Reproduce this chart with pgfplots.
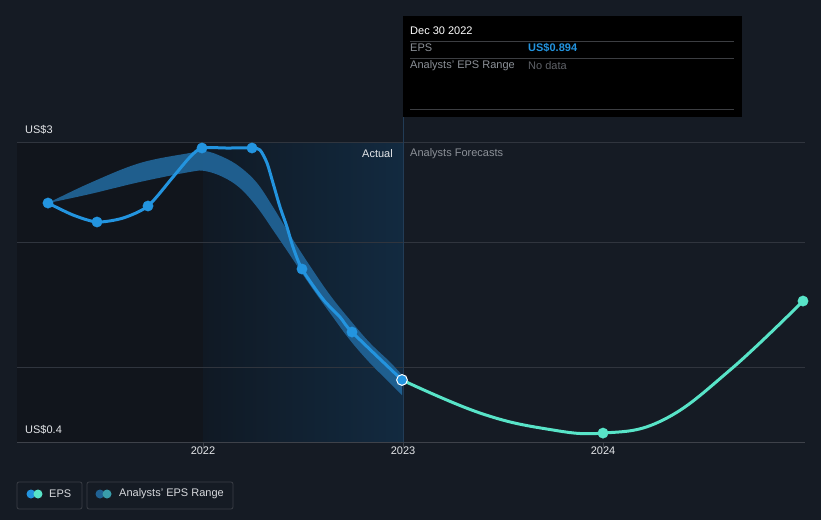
\documentclass[border=0pt]{standalone}
\usepackage{pgfplots}
\pgfplotsset{compat=1.18}
\usepgfplotslibrary{fillbetween}
\usepackage{fontspec}
\setmainfont{Liberation Sans}
\definecolor{bg}{RGB}{21,27,36}
\definecolor{leftbg}{RGB}{17,21,28}
\definecolor{midL}{RGB}{16,25,36}
\definecolor{midR}{RGB}{18,42,64}
\definecolor{gridc}{RGB}{48,53,62}
\definecolor{axc}{RGB}{62,66,74}
\definecolor{epsblue}{RGB}{35,148,223}
\definecolor{teal}{RGB}{88,228,200}
\definecolor{band}{RGB}{32,98,148}
\definecolor{txt}{RGB}{228,230,233}
\definecolor{gtxt}{RGB}{140,145,152}
\definecolor{dtxt}{RGB}{95,98,104}
\definecolor{vline}{RGB}{34,60,86}
\definecolor{tipline}{RGB}{60,62,66}
\definecolor{legb}{RGB}{58,62,70}
\begin{document}
\begin{tikzpicture}[font=\fontsize{11}{13}\selectfont]
\fill[bg] (0pt,0pt) rectangle (821pt,520pt);
\begin{axis}[at={(17pt,78pt)}, anchor=south west, scale only axis,
  width=788pt, height=299.5pt,
  xmin=2021.07, xmax=2025.01, ymin=0.344, ymax=3,
  axis line style={draw=none}, clip=false,
  xtick={2022,2023,2024}, xticklabels={2022,2023,2024},
  xticklabel style={text=txt, yshift=-1pt},
  ytick=\empty, major tick length=0pt]
  % background regions
  \fill[leftbg] (axis cs:2021.07,0.344) rectangle (axis cs:2022,3);
  \shade[left color=midL, right color=midR] (axis cs:2022,0.344) rectangle (axis cs:2023,3);
  % grid lines
  \draw[gridc, line width=0.8pt] (axis cs:2021.07,3) -- (axis cs:2025.01,3);
  \draw[gridc, line width=0.8pt] (axis cs:2021.07,2.117) -- (axis cs:2025.01,2.117);
  \draw[gridc, line width=0.8pt] (axis cs:2021.07,1.009) -- (axis cs:2025.01,1.009);
  \draw[axc, line width=0.8pt] (axis cs:2021.07,0.344) -- (axis cs:2025.01,0.344);
  \draw[axc, line width=0.8pt] (axis cs:2022,0.344) -- ([yshift=-5pt]axis cs:2022,0.344);
  \draw[axc, line width=0.8pt] (axis cs:2023,0.344) -- ([yshift=-5pt]axis cs:2023,0.344);
  \draw[axc, line width=0.8pt] (axis cs:2024,0.344) -- ([yshift=-5pt]axis cs:2024,0.344);
  \draw[vline, line width=0.8pt] (axis cs:2023,0.344) -- ([yshift=25pt]axis cs:2023,3);
  % analysts range band
  \addplot[name path=up, draw=none, smooth, tension=0.6] coordinates {
    (2021.225,2.463) (2021.435,2.641) (2021.685,2.818) (2021.935,2.907) (2022.01,2.925)
    (2022.10,2.871) (2022.185,2.783) (2022.27,2.641) (2022.35,2.428) (2022.435,2.180)
    (2022.535,1.905) (2022.635,1.647) (2022.735,1.426) (2022.835,1.222) (2022.935,1.053)
    (2022.995,0.937)};
  \addplot[name path=lo, draw=none, smooth, tension=0.6] coordinates {
    (2021.225,2.463) (2021.435,2.543) (2021.685,2.650) (2021.935,2.739) (2022.01,2.747)
    (2022.10,2.694) (2022.185,2.596) (2022.27,2.428) (2022.35,2.224) (2022.435,2.002)
    (2022.535,1.736) (2022.635,1.488) (2022.735,1.248) (2022.835,1.044) (2022.935,0.867)
    (2022.995,0.760)};
  \addplot[band, fill opacity=0.95, draw=none] fill between[of=up and lo, on layer=main];
  % EPS actual line
  \addplot[epsblue, line width=3pt, smooth, tension=0.45] coordinates {
    (2021.225,2.463) (2021.35,2.357) (2021.47,2.295) (2021.60,2.330) (2021.725,2.437)
    (2021.85,2.694) (2021.935,2.871) (2021.995,2.951) (2022.12,2.951) (2022.245,2.951)
    (2022.285,2.933) (2022.32,2.818) (2022.35,2.641) (2022.385,2.428) (2022.42,2.250)
    (2022.45,2.073) (2022.495,1.878) (2022.60,1.610) (2022.685,1.452) (2022.745,1.319)
    (2022.995,0.894)};
  \addplot[only marks, mark=*, mark size=5.2pt, mark options={fill=epsblue, draw=epsblue}] coordinates {
    (2021.225,2.463) (2021.47,2.295) (2021.725,2.437) (2021.995,2.951) (2022.245,2.951)
    (2022.495,1.878) (2022.745,1.319)};
  % forecast line
  \addplot[teal, line width=3pt, smooth, tension=0.7] coordinates {
    (2022.995,0.894) (2023.385,0.601) (2023.72,0.459) (2024.0,0.423) (2024.30,0.539)
    (2024.635,0.982) (2025.0,1.594)};
  \addplot[only marks, mark=*, mark size=5.2pt, mark options={fill=teal, draw=teal}] coordinates {
    (2024.0,0.423) (2025.0,1.594)};
  \addplot[only marks, mark=*, mark size=5.4pt, mark options={fill=epsblue, draw=white, line width=1pt}] coordinates {
    (2022.995,0.894)};
\end{axis}
\begin{scope}[x=1pt,y=1pt]
% y labels
\node[anchor=west, text=txt, inner sep=0pt] at (25,390) {US\$3};
\node[anchor=west, text=txt, inner sep=0pt] at (25,90) {US\$0.4};
% actual / forecast labels
\node[anchor=east, text=txt, inner sep=0pt] at (393,366) {Actual};
\node[anchor=west, text=gtxt, inner sep=0pt] at (410,366) {Analysts Forecasts};
% tooltip
\fill[black] (403,504) rectangle (742,403);
\node[anchor=west, text=white, inner sep=0pt] at (410,489) {Dec 30 2022};
\draw[tipline, line width=0.8pt] (410,479) -- (734,479);
\node[anchor=west, text=gtxt, inner sep=0pt] at (410,472) {EPS};
\node[anchor=west, text=epsblue, inner sep=0pt] at (528,472) {\bfseries US\$0.894};
\draw[tipline, line width=0.8pt] (410,462) -- (734,462);
\node[anchor=west, text=gtxt, inner sep=0pt] at (410,454) {Analysts' EPS Range};
\node[anchor=west, text=dtxt, inner sep=0pt] at (528,454) {No data};
\draw[tipline, line width=0.8pt] (410,411) -- (734,411);
% legend
\draw[legb, line width=0.8pt, rounded corners=2pt] (17,38) rectangle (82,11);
\fill[epsblue] (31,26) circle (4.5);
\fill[teal] (38,26) circle (4.5);
\node[anchor=west, text=txt!85!gtxt, inner sep=0pt] at (49,26) {EPS};
\draw[legb, line width=0.8pt, rounded corners=2pt] (87,38) rectangle (233,11);
\fill[band] (100,26) circle (4.5);
\fill[teal!45!band] (107,26) circle (4.5);
\node[anchor=west, text=txt!85!gtxt, inner sep=0pt] at (119,26) {Analysts' EPS Range};
\end{scope}
\end{tikzpicture}
\end{document}
